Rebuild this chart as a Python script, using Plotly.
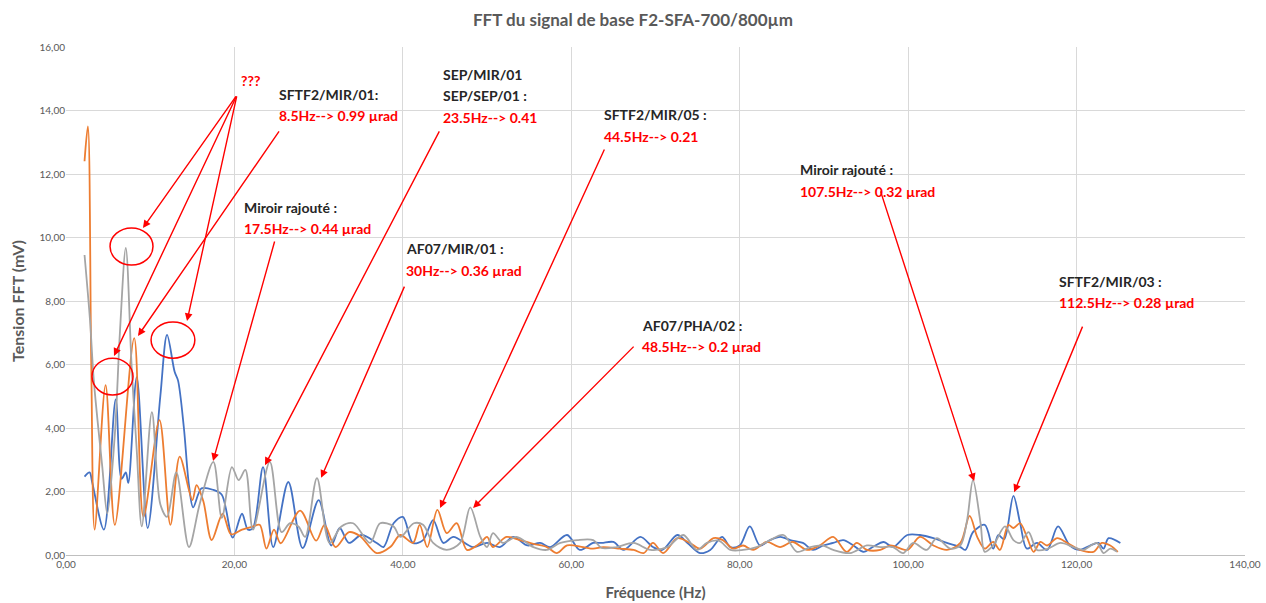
import plotly.graph_objects as go

# ---------------- data ----------------
blue_x = [2.2, 2.8, 3.1, 4.5, 5.9, 6.6, 7.1, 7.4, 8.4, 9.7, 11.2, 12.0, 12.9, 13.3, 14.0, 14.6, 15.1,
          16.1, 17.5, 18.5, 19.8, 20.9, 21.6, 22.2, 23.4, 24.6, 26.4, 28.1, 30.0, 31.5, 32.5, 33.6,
          35.1, 36.9, 37.7, 38.9, 40.0, 41.2, 42.4, 43.6, 44.8, 46.0, 48.3, 50.0, 51.5, 53.1, 54.8,
          56.3, 57.5, 59.5, 61.0, 62.6, 63.6, 65.0, 66.2, 68.2, 69.7, 70.8, 72.6, 73.8, 75.3, 76.5,
          77.9, 78.9, 80.0, 81.2, 82.4, 83.6, 84.8, 86.0, 87.5, 88.7, 89.9, 91.1, 92.3, 93.5, 94.7,
          95.8, 97.1, 98.2, 99.9, 101.4, 103.0, 104.6, 106.2, 106.8, 107.7, 109.1, 110.1, 110.7,
          111.4, 112.5, 113.3, 114.1, 115.3, 116.5, 117.8, 119.2, 120.4, 121.6, 122.6, 123.2,
          123.8, 125.2]
blue_y = [2.47, 2.6, 2.3, 0.8, 4.9, 2.4, 2.6, 2.27, 5.6, 0.85, 5.0, 6.93, 5.77, 5.5, 4.0, 2.2, 1.5,
          2.1, 2.05, 1.9, 0.55, 1.3, 0.8, 0.85, 2.77, 0.25, 2.3, 0.22, 1.73, 0.3, 0.85, 0.38,
          0.63, 0.38, 0.25, 1.0, 1.2, 0.38, 0.47, 1.1, 0.38, 0.57, 0.25, 0.38, 0.25, 0.57, 0.3,
          0.38, 0.25, 0.63, 0.16, 0.38, 0.38, 0.41, 0.16, 0.57, 0.25, 0.16, 0.63, 0.38, 0.06, 0.16,
          0.57, 0.25, 0.3, 0.9, 0.3, 0.47, 0.57, 0.47, 0.38, 0.16, 0.3, 0.38, 0.47, 0.3, 0.1,
          0.25, 0.41, 0.25, 0.63, 0.63, 0.53, 0.38, 0.25, 0.16, 0.72, 0.95, 0.2, 0.63,
          0.5, 1.86, 1.0, 0.2, 0.38, 0.16, 0.9, 0.3, 0.16, 0.3, 0.38, 0.2,
          0.53, 0.38]

orange_x = [2.2, 2.6, 3.0, 3.4, 4.7, 5.8, 8.1, 9.2, 11.1, 12.4, 13.5, 15.0, 15.5, 16.3, 17.3, 18.6,
            19.6, 20.9, 22.2, 23.0, 23.8, 24.7, 25.5, 27.8, 29.7, 30.7, 32.0, 33.6, 34.9, 36.9,
            38.5, 39.7, 41.2, 42.0, 42.9, 44.1, 45.2, 46.4, 47.6, 49.2, 50.0, 50.7, 52.3, 53.9,
            55.5, 57.1, 58.3, 59.5, 61.4, 62.6, 63.8, 65.8, 67.4, 68.6, 69.7, 70.9, 72.6, 74.1,
            75.3, 76.9, 78.0, 79.2, 80.4, 81.6, 83.2, 84.8, 86.3, 88.0, 89.5, 91.1, 92.7, 93.9,
            95.1, 96.7, 97.9, 99.9, 101.4, 103.0, 104.6, 106.2, 107.3, 108.2, 109.1, 110.1, 110.9,
            111.9, 112.5, 113.3, 114.1, 114.9, 115.7, 116.5, 117.7, 118.9, 120.4, 122.0, 123.0,
            124.0, 124.9]
orange_y = [12.4, 13.5, 6.0, 0.8, 5.35, 0.95, 6.83, 1.2, 4.25, 0.95, 3.1, 1.73, 2.2, 1.7, 0.47, 1.3,
            0.65, 0.8, 0.9, 0.95, 0.2, 0.8, 0.37, 1.4, 0.45, 0.95, 0.25, 0.72, 0.6, 0.06,
            0.25, 0.63, 0.38, 0.95, 0.25, 1.42, 0.69, 1.0, 0.16, 0.38, 0.57, 0.25, 0.57, 0.47,
            0.35, 0.25, 0.06, 0.3, 0.25, 0.2, 0.25, 0.2, 0.16, 0.06, 0.38, 0.06, 0.53, 0.38,
            0.2, 0.53, 0.47, 0.2, 0.3, 0.16, 0.41, 0.25, 0.41, 0.16, 0.3, 0.57, 0.1, 0.38,
            0.16, 0.16, 0.3, 0.16, 0.57, 0.3, 0.16, 0.38, 1.23, 0.57, 0.2, 0.41, 0.16,
            0.95, 0.85, 1.0, 0.57, 0.1, 0.41, 0.3, 0.53, 0.38, 0.16, 0.1, 0.38,
            0.3, 0.1]

gray_x = [2.2, 2.85, 3.3, 4.3, 4.9, 5.8, 6.4, 7.1, 7.8, 8.4, 9.0, 10.2, 11.2, 12.0, 13.1, 14.6,
          15.9, 17.5, 18.5, 19.7, 20.5, 21.3, 22.2, 24.2, 25.6, 26.6, 27.6, 28.4, 29.8, 31.3,
          32.7, 34.1, 36.1, 37.3, 38.9, 39.7, 41.3, 42.4, 43.6, 45.2, 46.8, 48.0, 49.2, 50.0,
          50.7, 51.9, 53.5, 55.5, 57.1, 58.7, 60.7, 62.6, 63.6, 65.4, 67.4, 69.4, 71.4, 73.3,
          74.9, 76.1, 77.5, 78.9, 80.4, 82.0, 83.6, 85.2, 86.8, 88.4, 89.8, 91.1, 93.1, 95.1,
          96.7, 98.2, 99.4, 100.6, 102.2, 103.4, 105.0, 106.2, 107.0, 107.7, 108.6, 109.1, 110.1,
          111.5, 112.5, 113.3, 114.3, 115.3, 116.6, 118.1, 119.6, 120.8, 122.4, 123.2, 124.0,
          124.8]
gray_y = [9.45, 7.4, 5.5, 2.8, 1.3, 3.8, 7.0, 9.67, 5.9, 3.3, 0.9, 4.5, 1.6, 1.2, 2.6, 0.25,
          1.63, 2.93, 1.17, 2.77, 2.36, 2.68, 0.8, 2.93, 0.72, 1.0, 0.9, 0.57, 2.42, 0.38,
          0.9, 1.0, 0.38, 1.0, 0.9, 0.57, 1.0, 0.95, 0.38, 0.16, 0.38, 1.5, 0.57, 0.25,
          0.69, 0.38, 0.57, 0.25, 0.16, 0.38, 0.47, 0.47, 0.22, 0.25, 0.38, 0.16, 0.25, 0.63,
          0.16, 0.38, 0.45, 0.16, 0.16, 0.25, 0.47, 0.63, 0.1, 0.25, 0.3, 0.16, 0.06, 0.3,
          0.25, 0.25, 0.06, 0.38, 0.16, 0.53, 0.2, 0.3, 1.1, 2.36, 1.0, 0.1, 0.3,
          0.9, 0.47, 0.38, 0.72, 0.16, 0.2, 0.38, 0.25, 0.16, 0.38, 0.06, 0.2,
          0.1]

x_ticks = [0, 20, 40, 60, 80, 100, 120, 140]
y_ticks = [0, 2, 4, 6, 8, 10, 12, 14, 16]

# annotation labels: (x_left, y_line1, [(text, color), ...])
labels = [
    (25.0, 14.5, [("SFTF2/MIR/01:", "black"), ("8.5Hz--> 0.99 µrad", "red")]),
    (44.5, 15.13, [("SEP/MIR/01", "black"), ("SEP/SEP/01 :", "black"), ("23.5Hz--> 0.41", "red")]),
    (63.6, 13.86, [("SFTF2/MIR/05 :", "black"), ("44.5Hz--> 0.21", "red")]),
    (20.9, 10.96, [("Miroir rajouté :", "black"), ("17.5Hz--> 0.44 µrad", "red")]),
    (40.1, 9.64, [("AF07/MIR/01 :", "black"), ("30Hz--> 0.36 µrad", "red")]),
    (68.2, 7.24, [("AF07/PHA/02 :", "black"), ("48.5Hz--> 0.2 µrad", "red")]),
    (86.9, 12.13, [("Miroir rajouté :", "black"), ("107.5Hz--> 0.32 µrad", "red")]),
    (117.7, 8.63, [("SFTF2/MIR/03 :", "black"), ("112.5Hz--> 0.28 µrad", "red")]),
]
line_step = 0.67  # mV between label lines

# arrows: (tail_x, tail_y, head_x, head_y)
arrows = [
    (20.31, 14.49, 9.14, 10.30),
    (20.31, 14.49, 5.70, 6.27),
    (20.31, 14.49, 14.37, 7.37),
    (25.42, 13.39, 8.55, 6.90),
    (24.82, 9.92, 17.46, 2.96),
    (44.42, 13.39, 23.63, 2.83),
    (40.26, 8.50, 30.29, 2.43),
    (64.01, 12.82, 44.42, 1.48),
    (67.58, 6.61, 48.34, 1.48),
    (96.67, 11.50, 107.84, 2.33),
    (120.78, 7.24, 112.59, 1.98),
]

# red ellipses (x0, x1, y0, y1)
ellipses = [
    (5.23, 10.33, 9.13, 10.30),
    (3.09, 7.96, 5.04, 6.20),
    (10.1, 15.3, 6.20, 7.34),
]

FONT = "Lato, 'Open Sans', sans-serif"

fig = go.Figure()
for xs, ys, col, name in [(blue_x, blue_y, "#4472C4", "S1"),
                          (orange_x, orange_y, "#ED7D31", "S2"),
                          (gray_x, gray_y, "#A5A5A5", "S3")]:
    fig.add_trace(go.Scatter(x=xs, y=ys, mode="lines", name=name,
                             line=dict(color=col, width=1.8, shape="spline", smoothing=0.9)))

annotations = []
for tx, ty, hx, hy in arrows:
    annotations.append(dict(x=hx, y=hy, ax=tx, ay=ty, xref="x", yref="y", axref="x", ayref="y",
                            text="", showarrow=True, arrowhead=2, arrowsize=1.1, arrowwidth=1.4,
                            arrowcolor="#FF0000", standoff=0, startstandoff=0))
for lx, ly, lines in labels:
    for i, (t, c) in enumerate(lines):
        annotations.append(dict(x=lx, y=ly - i * line_step, xref="x", yref="y", text="<b>%s</b>" % t,
                                showarrow=False, xanchor="left", yanchor="middle",
                                font=dict(family=FONT, size=14, color="#FF0000" if c == "red" else "#262626")))
annotations.append(dict(x=21.85, y=14.96, xref="x", yref="y", text="<b>???</b>", showarrow=False,
                        xanchor="center", yanchor="middle", font=dict(family=FONT, size=14, color="#FF0000")))

shapes = [dict(type="circle", xref="x", yref="y", x0=a, x1=b, y0=c, y1=d,
               line=dict(color="#FF0000", width=1.5)) for a, b, c, d in ellipses]

fig.update_layout(
    width=1266, height=603,
    margin=dict(l=66, r=21, t=47, b=48),
    paper_bgcolor="white", plot_bgcolor="white",
    showlegend=False,
    separators=", ",
    title=dict(text="<b>FFT du signal de base F2-SFA-700/800µm</b>", x=0.5, xanchor="center",
               y=1 - 20 / 603, yanchor="middle", yref="container",
               font=dict(family=FONT, size=17, color="#595959")),
    xaxis=dict(range=[0, 140], tickvals=x_ticks, tickformat=".2f", showgrid=True, automargin=False,
               gridcolor="#D9D9D9", gridwidth=1, zeroline=False, showline=True, linecolor="#BFBFBF",
               tickfont=dict(family=FONT, size=10, color="#595959"), ticks="",
               title=dict(text="<b>Fréquence (Hz)</b>", standoff=18,
                          font=dict(family=FONT, size=15, color="#595959"))),
    yaxis=dict(range=[0, 16], tickvals=y_ticks, tickformat=".2f", showgrid=True, automargin=False,
               gridcolor="#D9D9D9", gridwidth=1, zeroline=False, showline=False,
               tickfont=dict(family=FONT, size=10, color="#595959"), ticks="",
               title=dict(text="<b>Tension FFT (mV)</b>", standoff=10,
                          font=dict(family=FONT, size=16, color="#595959"))),
    annotations=annotations,
    shapes=shapes,
)

fig.write_html("out.html")
